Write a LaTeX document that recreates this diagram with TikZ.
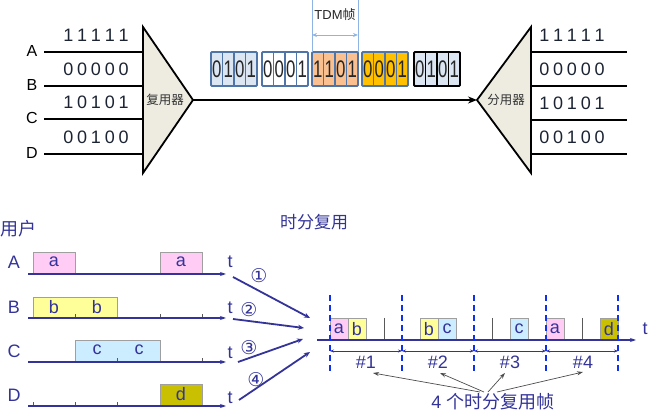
\documentclass[tikz,border=0pt]{standalone}
\usepackage{fontspec}
\setmainfont{Liberation Sans}
\newfontfamily\cjk{Noto Sans CJK SC}
\newfontfamily\narrowdigits[FakeStretch=0.7]{Liberation Sans}
\newfontfamily\circfont{DejaVu Sans}
\usetikzlibrary{arrows.meta}
\definecolor{dblue}{HTML}{333399}
\definecolor{bitcol}{HTML}{1C2433}
\definecolor{triFill}{HTML}{EEECE1}
\definecolor{gline}{HTML}{4F74A8}
\definecolor{gfillA}{HTML}{DCE6F2}
\definecolor{gpeach}{HTML}{FAC090}
\definecolor{gorange}{HTML}{FFC000}
\definecolor{tdmline}{HTML}{8EB4E3}
\definecolor{pinkbox}{HTML}{FFCCF5}
\definecolor{yellowbox}{HTML}{FFFF99}
\definecolor{bluebox}{HTML}{CCECFF}
\definecolor{olivebox}{HTML}{C8C000}
\definecolor{dashblue}{HTML}{1030F0}
\newcommand\bitstr[5]{#1\kern3.8pt#2\kern3.8pt#3\kern3.8pt#4\kern3.8pt#5}
\tikzset{
  wire/.style={line width=2.2pt, black},
  muxtri/.style={draw=black, line width=1.8pt, fill=triFill, line join=miter},
  bits/.style={font=\fontsize{18}{19}\selectfont, text=bitcol, inner sep=0},
  chlabel/.style={font=\fontsize{16}{18}\selectfont, inner sep=0},
  cjklabel/.style={font=\cjk\fontsize{12.5}{14}\selectfont, inner sep=0, text=black!80},
  digit/.style={font=\narrowdigits\fontsize{24}{25}\selectfont, inner sep=0, text=black!85},
  axisline/.style={draw=dblue, line width=1.8pt, -{Stealth[length=6pt,width=4pt]}},
  blabel/.style={font=\fontsize{18}{20}\selectfont, text=dblue, inner sep=0},
  slotlabel/.style={font=\fontsize{18}{20}\selectfont, text=dblue, inner sep=0},
  slotbox/.style={draw=gray!75, line width=0.8pt},
  tick/.style={draw=gray!70!black, line width=0.8pt},
  feed/.style={draw=dblue, line width=1.8pt, -{Stealth[length=6pt,width=5pt]}},
  circnum/.style={font=\circfont\fontsize{19}{20}\selectfont, text=dblue, inner sep=0},
  framesep/.style={draw=dashblue, line width=2.2pt, dash pattern=on 6pt off 4pt},
  framearrow/.style={draw=dblue, line width=0.9pt, {Stealth[length=4pt,width=3pt]}-{Stealth[length=4pt,width=3pt]}},
  pointer/.style={draw=gray!60!black, line width=0.7pt, -{Stealth[length=6pt,width=4pt]}},
}
\begin{document}
\begin{tikzpicture}[x=1pt,y=-1pt]
\useasboundingbox (0,0) rectangle (649,414);

% ---------------- top part ----------------
% input wires
\foreach \yy/\lab/\bitsA/\ly [count=\i] in {52/A/{\bitstr11111}/35, 86/B/{\bitstr00000}/69, 119/C/{\bitstr10101}/102, 154/D/{\bitstr00100}/137} {
  \coordinate (inL\i) at (44,\yy);
  \coordinate (inR\i) at (143,\yy);
  \draw[wire] (inL\i) -- (inR\i);
  \node[chlabel] (lab\i) at (32,\yy-1) {\lab};
  \node[bits] (bitsL\i) at (96,\ly) {\bitsA};
}
% output wires
\foreach \yy/\bitsA/\ly [count=\i] in {52/{\bitstr11111}/35, 86/{\bitstr00000}/69, 120/{\bitstr10101}/103, 154/{\bitstr00100}/137} {
  \coordinate (outL\i) at (531,\yy);
  \coordinate (outR\i) at (627,\yy);
  \draw[wire] (outL\i) -- (outR\i);
  \node[bits] (bitsR\i) at (572,\ly) {\bitsA};
}
% multiplexer / demultiplexer
\draw[muxtri] (143,27) -- (193,100) -- (143,173) -- cycle;
\draw[muxtri] (531,27) -- (477,100) -- (531,173) -- cycle;
\node[cjklabel] (mux) at (165,100) {复用器};
\node[cjklabel] (demux) at (506,100) {分用器};
\coordinate (muxout) at (193,100);
\coordinate (demuxin) at (477,100);
\draw[line width=2pt, -{Stealth[length=9pt,width=7pt]}] (muxout) -- (demuxin);

% TDM frame groups
\foreach \gx/\da/\db/\dc/\dd/\fc/\lc [count=\g] in {211/0/1/0/1/gfillA/gline, 262/0/0/0/1/white/gline, 312/1/1/0/1/gpeach/gline, 362/0/0/0/1/gorange/gline, 414/0/1/0/1/gfillA/black} {
  \fill[\fc] (\gx,52) rectangle ++(46,34);
  \foreach \k in {1,2,3} \draw[draw=\lc, line width=1.2pt] (\gx+\k*11.5,52) -- ++(0,34);
  \draw[draw=\lc, line width=1.8pt, rounded corners=1pt] (\gx,52) rectangle ++(46,34);
  \node[digit] (d\g a) at (\gx+5.75,69.5) {\da};
  \node[digit] (d\g b) at (\gx+17.25,69.5) {\db};
  \node[digit] (d\g c) at (\gx+28.75,69.5) {\dc};
  \node[digit] (d\g d) at (\gx+40.25,69.5) {\dd};
}
% TDM frame marker
\coordinate (tdmTL) at (312,0);
\coordinate (tdmBL) at (312,52);
\coordinate (tdmTR) at (358,0);
\coordinate (tdmBR) at (358,52);
\draw[tdmline, line width=0.9pt] (tdmTL) -- (tdmBL);
\draw[tdmline, line width=0.9pt] (tdmTR) -- (tdmBR);
\coordinate (tdmA) at (312,35);
\coordinate (tdmB) at (358,35);
\draw[tdmline, line width=0.9pt, {Stealth[length=5pt,width=4pt]}-{Stealth[length=5pt,width=4pt]}] (tdmA) -- (tdmB);
\node[font=\fontsize{13}{14}\selectfont, inner sep=0, text=black!85] (tdmlab) at (335,15) {TDM{\cjk 帧}};

% ---------------- bottom part ----------------
\node[font=\cjk\fontsize{18}{20}\selectfont, text=dblue, inner sep=0, anchor=west] (users) at (0,229) {用户};
\node[font=\cjk\fontsize{17}{19}\selectfont, text=dblue, inner sep=0] (tdmtitle) at (314,222) {时分复用};

% user time lines
\foreach \yy/\lab/\ly/\ty [count=\i] in {274/A/262/262, 318/B/307/308, 362/C/351/353, 406/D/395/398} {
  \coordinate (ax\i s) at (28,\yy);
  \coordinate (ax\i e) at (226,\yy);
  \node[blabel] (ul\i) at (14,\ly) {\lab};
  \node[blabel] (ut\i) at (230,\ty) {t};
}
% boxes
\draw[slotbox, fill=pinkbox] (33,252) rectangle (75.3,274);
\draw[slotbox, fill=pinkbox] (160,252) rectangle (202.3,274);
\node[slotlabel] (ua1) at (54,262) {a};
\node[slotlabel] (ua2) at (181,262) {a};
\draw[slotbox, fill=yellowbox] (33,297) rectangle (117.7,318);
\node[slotlabel] (ub1) at (54,307) {b};
\node[slotlabel] (ub2) at (97,307) {b};
\draw[slotbox, fill=bluebox] (75.3,340) rectangle (160,362);
\node[slotlabel] (uc1) at (97,350) {c};
\node[slotlabel] (uc2) at (139,350) {c};
\draw[slotbox, fill=olivebox] (160,384) rectangle (202.3,406);
\node[slotlabel] (ud1) at (181,394) {d};
% ticks
\foreach \tx/\ty in {75.3/318, 160/318, 202.3/318, 117.7/362, 202.3/362, 33/406, 75.3/406, 117.7/406}
  \draw[tick] (\tx,\ty) -- ++(0,-4);
\foreach \i in {1,...,4} \draw[axisline] (ax\i s) -- (ax\i e);

% feeders
\coordinate (f1s) at (233,277); \coordinate (f1e) at (310,318);
\coordinate (f2s) at (233,319); \coordinate (f2e) at (304,328);
\coordinate (f3s) at (238,362); \coordinate (f3e) at (303,339);
\coordinate (f4s) at (239,400); \coordinate (f4e) at (310,352);
\foreach \i in {1,...,4} \draw[feed] (f\i s) -- (f\i e);
\node[circnum] (n1) at (259,276) {①};
\node[circnum] (n2) at (249,310) {②};
\node[circnum] (n3) at (249,348) {③};
\node[circnum] (n4) at (256,380) {④};

% multiplexed line
\draw[slotbox, fill=pinkbox] (330,318) rectangle (348,340);
\draw[slotbox, fill=yellowbox] (348,318) rectangle (366,340);
\draw[slotbox, fill=yellowbox] (420,318) rectangle (438,340);
\draw[slotbox, fill=bluebox] (438,318) rectangle (456,340);
\draw[slotbox, fill=bluebox] (510,318) rectangle (528,340);
\draw[slotbox, fill=pinkbox] (546,318) rectangle (564,340);
\draw[slotbox, fill=olivebox] (600,318) rectangle (618,340);
\node[slotlabel] (ma1) at (339,329) {a};
\node[slotlabel] (mb1) at (357,329) {b};
\node[slotlabel] (mb2) at (429,329) {b};
\node[slotlabel] (mc2) at (447,329) {c};
\node[slotlabel] (mc3) at (519,329) {c};
\node[slotlabel] (ma4) at (555,329) {a};
\node[slotlabel] (md4) at (609,329) {d};
\foreach \tx in {384, 492, 582} \draw[tick] (\tx,318) -- (\tx,340);
\coordinate (mls) at (317,340);
\coordinate (mle) at (636,340);
\draw[axisline] (mls) -- (mle);
\node[blabel] (mt) at (645,329) {t};

\foreach \i/\xx in {0/330, 1/402, 2/474, 3/546, 4/618} {
  \coordinate (fs\i t) at (\xx,295);
  \coordinate (fs\i b) at (\xx,371);
  \coordinate (fs\i m) at (\xx,351);
  \draw[framesep] (fs\i t) -- (fs\i b);
}
\foreach \i [evaluate=\i as \j using int(\i-1)] in {1,...,4}
  \draw[framearrow] (fs\j m) -- (fs\i m);
\node[slotlabel] (h1) at (366,362) {\#1};
\node[slotlabel] (h2) at (438,362) {\#2};
\node[slotlabel] (h3) at (510,362) {\#3};
\node[slotlabel] (h4) at (583,362) {\#4};

\node[font=\fontsize{18}{20}\selectfont, text=dblue, inner sep=0] (frames) at (493,402) {4 {\cjk 个时分复用帧}};
\coordinate (p1) at (480,392);
\coordinate (p2) at (484,392);
\coordinate (p3) at (488,392);
\coordinate (p4) at (497,392);
\draw[pointer] (p1) -- (373,373);
\draw[pointer] (p2) -- (440,373);
\draw[pointer] (p3) -- (505,373);
\draw[pointer] (p4) -- (583,372);
\end{tikzpicture}
\end{document}
